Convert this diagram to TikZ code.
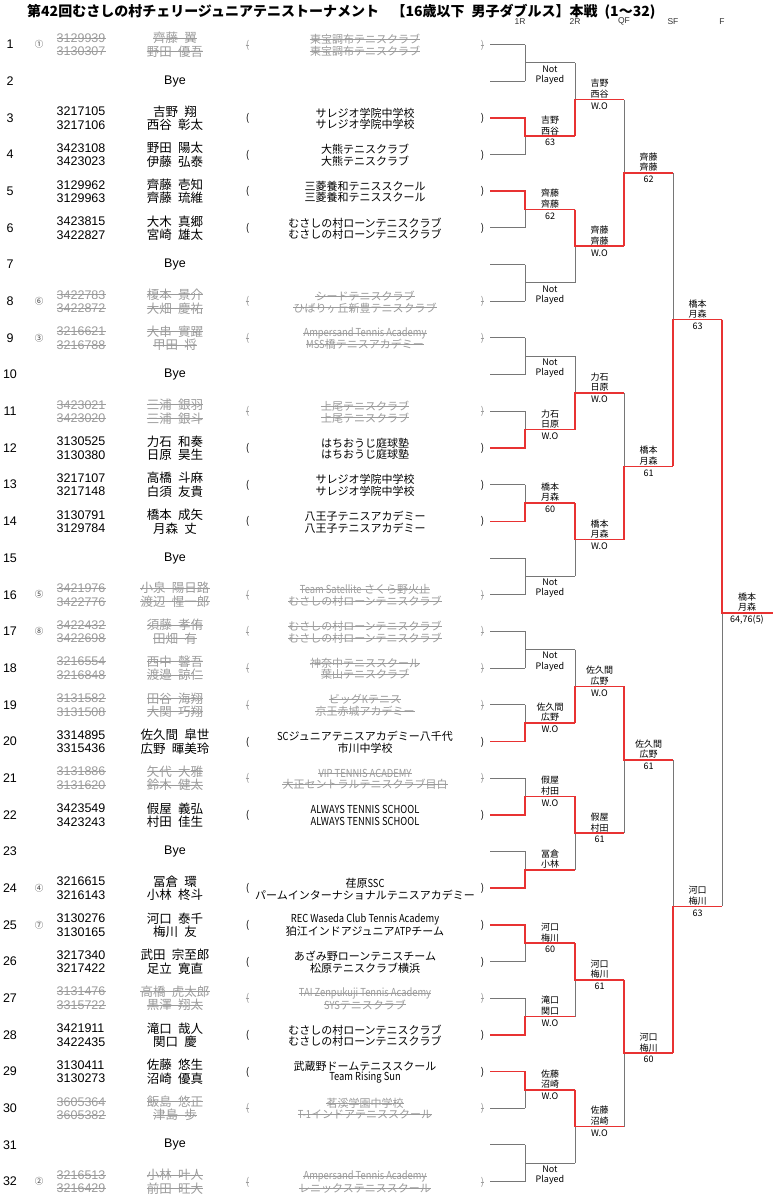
\documentclass[tikz,border=0pt]{standalone}
\usepackage{fontspec}
\usepackage{graphicx}
\setmainfont{Liberation Sans}
\newfontfamily\jp{Noto Sans CJK JP}
\usetikzlibrary{calc}
\definecolor{lgray}{RGB}{118,118,118}
\definecolor{wred}{RGB}{232,50,50}
\definecolor{wdgray}{RGB}{155,155,155}
\newcommand\jsp{\hspace{0.5em}}
\newcommand\lt[1]{\scalebox{0.85}[1]{#1}}
\tikzset{
 num/.style={inner sep=0, font=\fontsize{12.5}{13}\selectfont},
 seed/.style={inner sep=0, font=\jp\fontsize{8.5}{9}\selectfont, text=black!75},
 idt/.style={anchor=west, inner sep=0, font=\fontsize{12.5}{13}\selectfont},
 nmt/.style={inner sep=0, font=\jp\fontsize{12.5}{13}\selectfont},
 clt/.style={inner sep=0, font=\jp\fontsize{11}{12}\selectfont},
 prt/.style={inner sep=0, font=\jp\fontsize{10}{11}\selectfont},
 pl/.style={},
 wd/.style={text=wdgray, append after command={(\tikzlastnode.west) edge[draw=wdgray, line width=0.7pt] (\tikzlastnode.east)}},
 gl/.style={draw=lgray, line width=1pt},
 rl/.style={draw=wred, line width=1.6pt},
 lbl/.style={inner sep=0, font=\jp\fontsize{9}{10}\selectfont},
 hdr/.style={inner sep=0, font=\fontsize{8.5}{9}\selectfont, text=black!80},
}
% style, n, id1, id2, name1, name2, club1, club2
\newcommand\plentry[8]{%
 \pgfmathsetmacro\ry{44.5+(#2-1)*36.68}%
 \node[num] (rn#2) at (10,\ry) {#2};%
 \node[idt,#1] (ia#2) at (56.5,\ry-6.5) {#3};%
 \node[idt,#1] (ib#2) at (56.5,\ry+7) {#4};%
 \node[nmt,#1] (na#2) at (175,\ry-6.5) {#5};%
 \node[nmt,#1] (nb#2) at (175,\ry+7) {#6};%
 \node[prt,#1] (pa#2) at (247.5,\ry+0.5) {(};%
 \node[clt,#1] (ca#2) at (365,\ry-5) {#7};%
 \node[clt,#1] (cb#2) at (365,\ry+6.5) {#8};%
 \node[prt,#1] (pb#2) at (482.5,\ry+0.5) {)};%
}
\newcommand\byerow[1]{%
 \pgfmathsetmacro\ry{44.5+(#1-1)*36.68}%
 \node[num] (rn#1) at (10,\ry) {#1};%
 \node[num] (bye#1) at (175,\ry) {Bye};%
}
\newcommand\seedmark[2]{%
 \pgfmathsetmacro\ry{44.5+(#1-1)*36.68}%
 \node[seed] (sd#1) at (39,\ry) {#2};%
}
% coord, dx, name1, name2, id
\newcommand\wn[5]{%
 \node[lbl] (la#5) at ($(#1)+(#2,-16)$) {#3};%
 \node[lbl] (lb#5) at ($(#1)+(#2,-5.5)$) {#4};%
}
\newcommand\ws[4]{%
 \node[lbl] (lc#4) at ($(#1)+(#2,6.5)$) {#3};%
}
\newcommand\np[2]{%
 \node[lbl] (lna#2) at ($(#1)+(25,6)$) {Not};%
 \node[lbl] (lnb#2) at ($(#1)+(25,17)$) {Played};%
}
\begin{document}
\begin{tikzpicture}[x=1pt,y=-1pt]
\useasboundingbox (0,0) rectangle (773,1200);
\fill[white] (0,0) rectangle (773,1200);
\node[anchor=west, inner sep=0, font=\jp\bfseries\fontsize{14}{16}\selectfont] (title) at (27,11.5) {第42回むさしの村チェリージュニアテニストーナメント\hspace{0.9em}【16歳以下\jsp 男子ダブルス】本戦\jsp(1～32)};
\node[hdr] (h1) at (520,21.5) {1R};
\node[hdr] (h2) at (575,21.5) {2R};
\node[hdr] (h3) at (624,21.5) {QF};
\node[hdr] (h4) at (673,21.5) {SF};
\node[hdr] (h5) at (722,21.5) {F};
% ---------- entries ----------
\plentry{wd}{1}{3129939}{3130307}{齊藤\jsp 翼}{野田\jsp 優吾}{東宝調布テニスクラブ}{東宝調布テニスクラブ}
\byerow{2}
\plentry{pl}{3}{3217105}{3217106}{吉野\jsp 翔}{西谷\jsp 彰太}{サレジオ学院中学校}{サレジオ学院中学校}
\plentry{pl}{4}{3423108}{3423023}{野田\jsp 陽太}{伊藤\jsp 弘泰}{大熊テニスクラブ}{大熊テニスクラブ}
\plentry{pl}{5}{3129962}{3129963}{齊藤\jsp 壱知}{齊藤\jsp 琉維}{三菱養和テニススクール}{三菱養和テニススクール}
\plentry{pl}{6}{3423815}{3422827}{大木\jsp 真郷}{宮崎\jsp 雄太}{むさしの村ローンテニスクラブ}{むさしの村ローンテニスクラブ}
\byerow{7}
\plentry{wd}{8}{3422783}{3422872}{榎本\jsp 景介}{大畑\jsp 慶祐}{シードテニスクラブ}{ひばりヶ丘新豊テニスクラブ}
\plentry{wd}{9}{3216621}{3216788}{大串\jsp 實躍}{甲田\jsp 将}{\lt{Ampersand Tennis Academy}}{\lt{MSS}橋テニスアカデミー}
\byerow{10}
\plentry{wd}{11}{3423021}{3423020}{三浦\jsp 銀羽}{三浦\jsp 銀斗}{上尾テニスクラブ}{上尾テニスクラブ}
\plentry{pl}{12}{3130525}{3130380}{力石\jsp 和奏}{日原\jsp 昊生}{はちおうじ庭球塾}{はちおうじ庭球塾}
\plentry{pl}{13}{3217107}{3217148}{高橋\jsp 斗麻}{白須\jsp 友貴}{サレジオ学院中学校}{サレジオ学院中学校}
\plentry{pl}{14}{3130791}{3129784}{橋本\jsp 成矢}{月森\jsp 丈}{八王子テニスアカデミー}{八王子テニスアカデミー}
\byerow{15}
\plentry{wd}{16}{3421976}{3422776}{小泉\jsp 陽日路}{渡辺\jsp 惺一郎}{\lt{Team Satellite} さくら野火止}{むさしの村ローンテニスクラブ}
\plentry{wd}{17}{3422432}{3422698}{須藤\jsp 孝侑}{田畑\jsp 有}{むさしの村ローンテニスクラブ}{むさしの村ローンテニスクラブ}
\plentry{wd}{18}{3216554}{3216848}{西中\jsp 馨吾}{渡邉\jsp 諒仁}{神奈中テニススクール}{葉山テニスクラブ}
\plentry{wd}{19}{3131582}{3131508}{田谷\jsp 海翔}{大関\jsp 巧翔}{ビッグ\lt{K}テニス}{京王赤城アカデミー}
\plentry{pl}{20}{3314895}{3315436}{佐久間\jsp 皐世}{広野\jsp 暉美玲}{\lt{SC}ジュニアテニスアカデミー八千代}{市川中学校}
\plentry{wd}{21}{3131886}{3131620}{矢代\jsp 大雅}{鈴木\jsp 健太}{\lt{VIP TENNIS ACADEMY}}{大正セントラルテニスクラブ目白}
\plentry{pl}{22}{3423549}{3423243}{假屋\jsp 義弘}{村田\jsp 佳生}{\lt{ALWAYS TENNIS SCHOOL}}{\lt{ALWAYS TENNIS SCHOOL}}
\byerow{23}
\plentry{pl}{24}{3216615}{3216143}{冨倉\jsp 環}{小林\jsp 柊斗}{荏原\lt{SSC}}{パームインターナショナルテニスアカデミー}
\plentry{pl}{25}{3130276}{3130165}{河口\jsp 泰千}{梅川\jsp 友}{\lt{REC Waseda Club Tennis Academy}}{狛江インドアジュニア\lt{ATP}チーム}
\plentry{pl}{26}{3217340}{3217422}{武田\jsp 宗至郎}{足立\jsp 寛直}{あざみ野ローンテニスチーム}{松原テニスクラブ横浜}
\plentry{wd}{27}{3131476}{3315722}{高橋\jsp 虎太郎}{黒澤\jsp 翔太}{\lt{TAI Zenpukuji Tennis Academy}}{\lt{SYS}テニスクラブ}
\plentry{pl}{28}{3421911}{3422435}{滝口\jsp 哉人}{関口\jsp 慶}{むさしの村ローンテニスクラブ}{むさしの村ローンテニスクラブ}
\plentry{pl}{29}{3130411}{3130273}{佐藤\jsp 悠生}{沼崎\jsp 優真}{武蔵野ドームテニススクール}{\lt{Team Rising Sun}}
\plentry{wd}{30}{3605364}{3605382}{飯島\jsp 悠正}{津島\jsp 歩}{茗溪学園中学校}{\lt{T-1}インドアテニススクール}
\byerow{31}
\plentry{wd}{32}{3216513}{3216429}{小林\jsp 叶人}{前田\jsp 旺大}{\lt{Ampersand Tennis Academy}}{レニックステニススクール}
\seedmark{1}{①}\seedmark{8}{⑥}\seedmark{9}{③}\seedmark{16}{⑤}
\seedmark{17}{⑧}\seedmark{24}{④}\seedmark{25}{⑦}\seedmark{32}{②}
% ---------- bracket coordinates ----------
\foreach \i in {1,...,32}{
 \pgfmathsetmacro\ry{44.5+(\i-1)*36.68}
 \coordinate (e\i) at (490,\ry);
 \coordinate (v\i) at (525,\ry);
}
\foreach \j in {1,...,16}{
 \pgfmathtruncatemacro\p{2*\j-1}\pgfmathtruncatemacro\q{2*\j}
 \coordinate (a\j) at ($(v\p)!0.5!(v\q)$);
 \coordinate (A\j) at ($(a\j)+(50,0)$);
}
\foreach \j in {1,...,8}{
 \pgfmathtruncatemacro\p{2*\j-1}\pgfmathtruncatemacro\q{2*\j}
 \coordinate (b\j) at ($(A\p)!0.5!(A\q)$);
 \coordinate (B\j) at ($(b\j)+(49,0)$);
}
\foreach \j in {1,...,4}{
 \pgfmathtruncatemacro\p{2*\j-1}\pgfmathtruncatemacro\q{2*\j}
 \coordinate (c\j) at ($(B\p)!0.5!(B\q)$);
 \coordinate (C\j) at ($(c\j)+(49,0)$);
}
\foreach \j in {1,2}{
 \pgfmathtruncatemacro\p{2*\j-1}\pgfmathtruncatemacro\q{2*\j}
 \coordinate (d\j) at ($(C\p)!0.5!(C\q)$);
 \coordinate (D\j) at ($(d\j)+(49,0)$);
}
\coordinate (f) at ($(D1)!0.5!(D2)$);
\coordinate (F) at ($(f)+(51,0)$);
% ---------- grey bracket ----------
\foreach \i in {1,...,32} \draw[gl] (e\i) -- (v\i);
\foreach \j in {1,...,16}{
 \pgfmathtruncatemacro\p{2*\j-1}\pgfmathtruncatemacro\q{2*\j}
 \draw[gl] (v\p) -- (v\q); \draw[gl] (a\j) -- (A\j);
}
\foreach \j in {1,...,8}{
 \pgfmathtruncatemacro\p{2*\j-1}\pgfmathtruncatemacro\q{2*\j}
 \draw[gl] (A\p) -- (A\q); \draw[gl] (b\j) -- (B\j);
}
\foreach \j in {1,...,4}{
 \pgfmathtruncatemacro\p{2*\j-1}\pgfmathtruncatemacro\q{2*\j}
 \draw[gl] (B\p) -- (B\q); \draw[gl] (c\j) -- (C\j);
}
\foreach \j in {1,2}{
 \pgfmathtruncatemacro\p{2*\j-1}\pgfmathtruncatemacro\q{2*\j}
 \draw[gl] (C\p) -- (C\q); \draw[gl] (d\j) -- (D\j);
}
\draw[gl] (D1) -- (D2); \draw[gl] (f) -- (F);
% ---------- red winner paths ----------
\foreach \r/\m in {3/2,5/3,12/6,14/7,20/10,22/11,24/12,25/13,28/14,29/15}
 \draw[rl] (e\r) -- (v\r) -- (a\m) -- (A\m);
\foreach \w/\k in {2/1,3/2,6/3,7/4,10/5,11/6,13/7,15/8}
 \draw[rl] (A\w) -- (b\k) -- (B\k);
\foreach \w/\k in {2/1,4/2,5/3,7/4}
 \draw[rl] (B\w) -- (c\k) -- (C\k);
\foreach \w/\k in {2/1,4/2}
 \draw[rl] (C\w) -- (d\k) -- (D\k);
\draw[rl] (D1) -- (f) -- (F);
% ---------- labels: 1R ----------
\np{a1}{m1}
\wn{a2}{25}{吉野}{西谷}{m2}\ws{a2}{25}{63}{m2}
\wn{a3}{25}{齊藤}{齊藤}{m3}\ws{a3}{25}{62}{m3}
\np{a4}{m4}
\np{a5}{m5}
\wn{a6}{25}{力石}{日原}{m6}\ws{a6}{25}{W.O}{m6}
\wn{a7}{25}{橋本}{月森}{m7}\ws{a7}{25}{60}{m7}
\np{a8}{m8}
\np{a9}{m9}
\wn{a10}{25}{佐久間}{広野}{m10}\ws{a10}{25}{W.O}{m10}
\wn{a11}{25}{假屋}{村田}{m11}\ws{a11}{25}{W.O}{m11}
\wn{a12}{25}{冨倉}{小林}{m12}
\wn{a13}{25}{河口}{梅川}{m13}\ws{a13}{25}{60}{m13}
\wn{a14}{25}{滝口}{関口}{m14}\ws{a14}{25}{W.O}{m14}
\wn{a15}{25}{佐藤}{沼崎}{m15}\ws{a15}{25}{W.O}{m15}
\np{a16}{m16}
% ---------- labels: 2R ----------
\wn{b1}{24.5}{吉野}{西谷}{M1}\ws{b1}{24.5}{W.O}{M1}
\wn{b2}{24.5}{齊藤}{齊藤}{M2}\ws{b2}{24.5}{W.O}{M2}
\wn{b3}{24.5}{力石}{日原}{M3}\ws{b3}{24.5}{W.O}{M3}
\wn{b4}{24.5}{橋本}{月森}{M4}\ws{b4}{24.5}{W.O}{M4}
\wn{b5}{24.5}{佐久間}{広野}{M5}\ws{b5}{24.5}{W.O}{M5}
\wn{b6}{24.5}{假屋}{村田}{M6}\ws{b6}{24.5}{61}{M6}
\wn{b7}{24.5}{河口}{梅川}{M7}\ws{b7}{24.5}{61}{M7}
\wn{b8}{24.5}{佐藤}{沼崎}{M8}\ws{b8}{24.5}{W.O}{M8}
% ---------- labels: QF ----------
\wn{c1}{24.5}{齊藤}{齊藤}{Q1}\ws{c1}{24.5}{62}{Q1}
\wn{c2}{24.5}{橋本}{月森}{Q2}\ws{c2}{24.5}{61}{Q2}
\wn{c3}{24.5}{佐久間}{広野}{Q3}\ws{c3}{24.5}{61}{Q3}
\wn{c4}{24.5}{河口}{梅川}{Q4}\ws{c4}{24.5}{60}{Q4}
% ---------- labels: SF ----------
\wn{d1}{24.5}{橋本}{月森}{S1}\ws{d1}{24.5}{63}{S1}
\wn{d2}{24.5}{河口}{梅川}{S2}\ws{d2}{24.5}{63}{S2}
% ---------- label: F ----------
\wn{f}{25}{橋本}{月森}{FF}\ws{f}{25}{64,76(5)}{FF}
\end{tikzpicture}
\end{document}
